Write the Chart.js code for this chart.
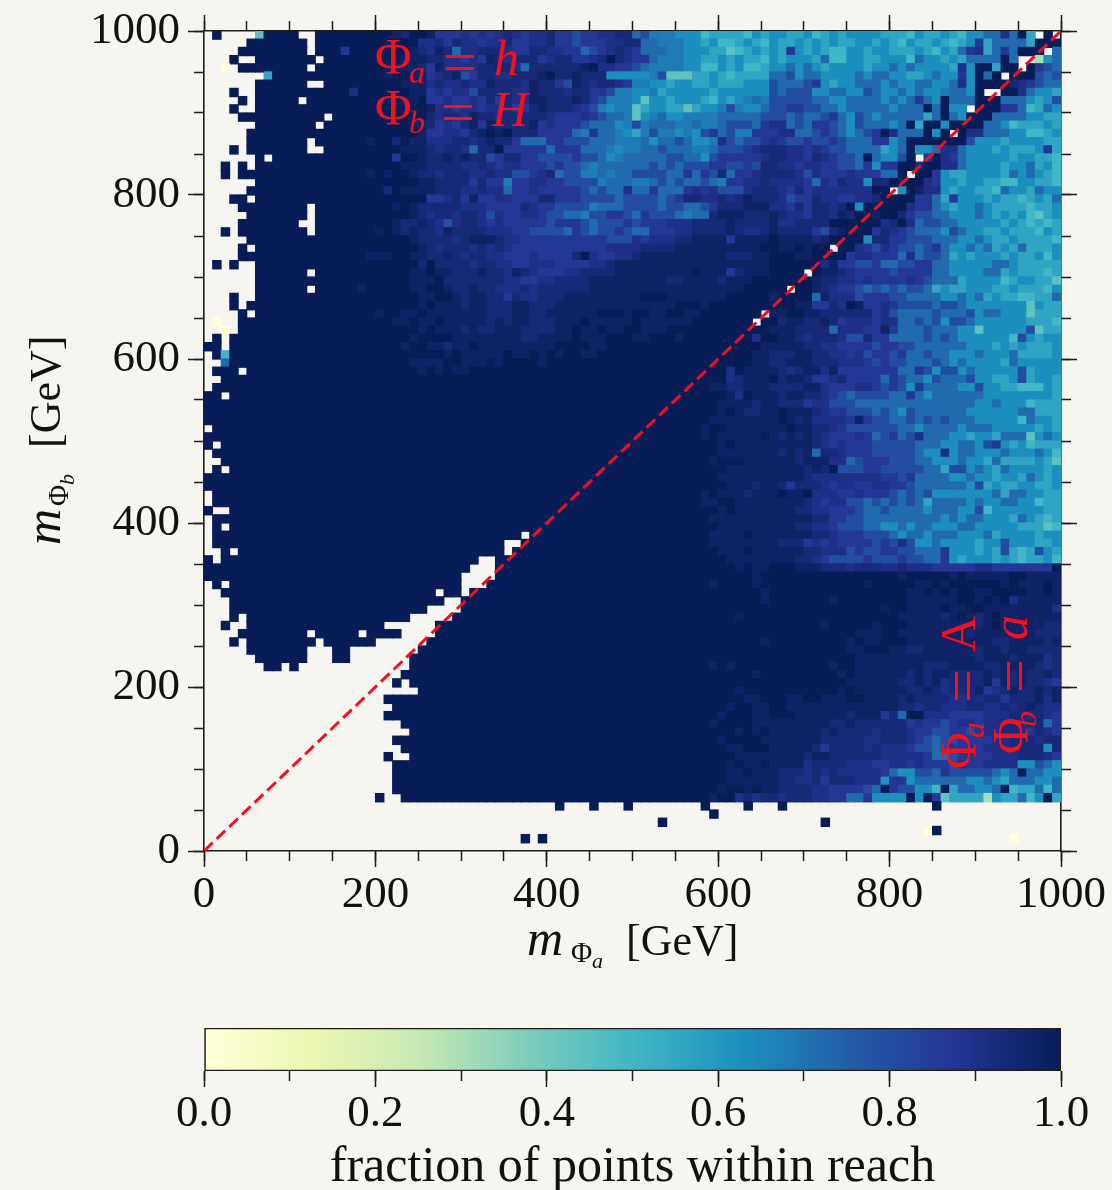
<!DOCTYPE html>
<html><head><meta charset="utf-8">
<style>html,body{margin:0;padding:0;background:#f6f5f0;width:1112px;height:1190px;overflow:hidden}
canvas{position:absolute;left:0;display:block}</style>
<script src="https://cdn.jsdelivr.net/npm/chart.js@4"></script>
</head><body>
<canvas id="map" width="1112" height="1010" style="top:0"></canvas>
<canvas id="bar" width="1112" height="180" style="top:1010px"></canvas>
<script>
// Each string is one row of cells, top row (m_b = 990-1000) first. '.' = empty cell.
const levelValues = {'9':1,'8':.97,'7':.935,'6':.9,'5':.865,'4':.8,'3':.72,'2':.68,'1':.63,'a':.56,'b':.5,'c':.44,'d':.3,'e':0};
const binWidth = 10;
const xTicks = [0,200,400,600,800,1000];
const barTicks = [0,0.2,0.4,0.6,0.8,1];
const barStops = ['#ffffd9','#edf8b1','#c7e9b4','#7fcdbb','#41b6c4','#1d91c0','#225ea8','#253494','#081d58'];
const diagonal = [{x:0,y:0},{x:1000,y:1000}];
// columns 0-32
const valuesLeft = [
".9....c9999..99999999987998555656",
".....9999999.99999999999966757665",
"....99999999.99959999999876873667",
"...9..9999999.9999999998887766565",
"..e.99999999.99999999888875866667",
".......a9999999999999899885678457",
"......999999..9999999998886766766",
"...9..999999999996999999885656647",
"....9.99999.999999999998895565565",
"...9..999999999999999999998665665",
"....9999999999.999999999997677687",
"......9999999.9999999999887565785",
".....9999999999999999999985566578",
".....9999999.99999989979886667767",
"...9.9999999..9999999998887677637",
"......9.9999999999999959987787877",
"..9.9.999999999999999998887777667",
"..9.99999999999999989899877677766",
"......999999999999999999988777757",
".....9999999999999999798888777667",
"...99.999999999999999999995567585",
"....99999999.99999999989877777666",
".....9999999.99999999999876776776",
"....9999999..99999999987787646776",
"..9.99999999.99999998987877687777",
".....9999999999999999999877776788",
"....9.999999999999999999987677767",
"....99999999999999988899887787677",
".9.9..999999999999999999979777767",
"......999999.99999999999889887778",
"......999999999999999999888977777",
"......999999.99999899999889987787",
"...9..999999999999999999988998788",
"...9.9999999999999999999989888788",
"....9.999999999999998998898888888",
".e..99999999999999999988988988888",
"..e.99999999999999999999989888787",
".9.999999999999999999999899998888",
"99.999999999999999999998998878898",
".9b999999999999999999999999989888",
"..3999999999999999999999888899888",
".999.9999999999999999999989898899",
"..9999999999999999999999999999999",
".99999999999999999999999999999999",
"99.999999999999999999999999999999",
"999999999999999999999999999999999",
"999999999999999999999999999999999",
"999999999999999999999999999999999",
".99999999999999999999999999999999",
"999999999999999999999999999999999",
"9.9999999999999999999999999999999",
".99999999999999999999999999999999",
"..9999999999999999999999999999999",
".9.999999999999999999999999999999",
"999999999999999999999999999999999",
"999999999999999999999999999999999",
".99999999999999999999999999999999",
".99999999999999999999999999999999",
"9..999999999999999999999999999999",
".99999999999999999999999999999999",
".9.999999999999999999999999999999",
".99999999999999999999999999999999",
".99999999999999999999999999999999",
"..9.99999999999999999999999999999",
"9.999999999999999999999999999999.",
"9999999999999999999999999999999..",
"999999999999999999999999999999...",
".9.999999999999999999999999999...",
"..9999999999999999999999999.99.99",
"...9999999999999999999999999..999",
"...99999999999999999999999....999",
"...9.9999999999999999999.....9999",
"..9..9999999999999999......999999",
"....99999999.99999.9999....999999",
"...9.99999999.999999......9999999",
".....9999999...99........99999999",
"......999999...99.......999999999",
".......99.9.............999999999",
".......................9999999999",
"......................9.999999999",
".........................99999999",
".....................999999999999",
"......................99999999999",
".....................999999999999",
".......................9999999999",
"........................999999999",
"......................99999999999",
".......................9999999999",
".....................9..999999999",
"......................99999999999",
"......................99999999999",
"......................99999999999",
"......................99999999999",
"....................9..9999999999",
"","","","","",""
];
// columns 33-65
const valuesMid = [
"56765 66755 45566 77342 22111 baaaa b1a",
"66755 66755 45556 67733 22211 a1bba 1ab",
"77655 77665 53456 76533 32211 1aacb a1a",
"87677 75677 55679 76553 22211 aa1a1 aab",
"78763 77777 78966 55432 22211 bb1a1 bba",
"76677 78977 87771 11112 4ccca a1aba aaa",
"87776 87754 87677 65221 1a11a a1aaa 111",
"77766 87776 77554 22112 a1111 1a111 111",
"75766 88777 87542 221c1 1a111 ab1a1 232",
"66755 78777 65421 22ca1 1aaca 11242 113",
"76777 77655 56543 32c12 31122 22333 334",
"87777 85655 54333 12423 33223 22344 435",
"98977 75555 32533 21a24 22121 45342 255",
"87753 33554 44333 22231 33431 12643 445",
"79555 55355 53332 12233 43332 23444 567",
"45775 54444 54431 23333 34433 14555 556",
"65665 55454 43233 33334 34344 45544 547",
"76644 56734 42232 33444 43353 54735 567",
"55255 66554 44423 33223 43433 43255 667",
"66355 65555 54343 36335 33356 56444 677",
"56655 57755 54444 34444 34577 66767 877",
"55557 65544 44233 34444 34433 45777 888",
"46556 65443 32445 54354 44323 37888 777",
"56555 55455 54344 45455 56667 77787 777",
"66655 44443 54344 54335 55667 77787 667",
"87665 55555 55554 44656 66778 88858 888",
"67655 55555 55556 66677 77888 88888 889",
"66555 65555 79655 66788 88888 88877 788",
"76655 66655 55667 88888 88888 88888 888",
"77687 65556 67777 88888 88889 88857 888",
"77665 56677 77888 88888 87788 88788 899",
"76667 67777 77888 88888 88888 88888 999",
"77576 67778 88888 88899 98888 88899 999",
"77788 77788 88888 88888 88999 89999 999",
"77788 77888 88899 98998 89988 99999 99.",
"78788 77788 89888 88988 88889 99999 9.9",
"78887 77788 98898 89988 89999 99999 999",
"88887 78888 98889 99889 99899 99999 969",
"88888 88899 99889 99999 99999 99999 998",
"88988 98989 98899 99999 99999 99999 988",
"98999 98999 99999 99999 99999 99999 988",
"99999 99999 99999 99999 99999 99969 888",
"99999 99999 99999 99999 99999 99967 888",
"99999 99999 99999 99999 99999 98877 888",
"99999 99999 99999 99999 99999 99986 988",
"99999 99999 99999 99999 99999 99888 878",
"99999 99999 99999 99999 99999 99898 778",
"99999 99999 99999 99999 99999 98888 888",
"99999 99999 99999 99999 99999 89988 888",
"99999 99999 99999 99999 99999 89888 889",
"99999 99999 99999 99999 99999 99898 888",
"99999 99999 99999 99999 99999 99888 888",
"99999 99999 99999 99999 99999 98999 888",
"99999 99999 99999 99999 99999 99988 888",
"99999 99999 99999 99999 99999 99888 888",
"99999 99999 99999 99999 99999 99988 878",
"99999 99999 99999 99999 99999 89888 788",
"99999 99999 99999 99999 99999 88998 888",
"99999 99999 99999 99999 99999 99898 888",
"99999 99999 99999 99999 99999 98888 888",
"99999 99999 99999 99999 99999 99888 888",
"9999. 99999 99999 99999 99999 98888 988",
"99..9 99999 99999 99999 99999 98888 888",
"99.99 99999 99999 99999 99999 99888 988",
".9999 99999 99999 99999 99999 99988 888",
".9999 99999 99999 99999 99999 99998 988",
".9999 99999 99999 99999 99999 99999 989",
"99999 99999 99999 99999 99999 98999 989",
"99999 99999 99999 99999 99999 99999 998",
"99999 99999 99999 99999 99999 99999 998",
"99999 99999 99999 99999 99999 99999 999",
"99999 99999 99999 99999 99999 99998 999",
"99999 99999 99999 99999 99999 99999 999",
"99999 99999 99999 99999 99999 99999 999",
"99999 99999 99999 99999 99999 99999 998",
"99999 99999 99999 99999 99999 99999 999",
"99999 99999 99999 99999 99999 99999 999",
"99999 99999 99999 99999 99999 98989 999",
"99999 99999 99999 99999 99999 99999 989",
"99999 99999 99999 99999 99999 99999 999",
"99999 99999 99999 99999 99999 99998 999",
"99999 99999 99999 99999 99999 99999 889",
"99999 99999 99999 99999 99999 99989 988",
"99999 99999 99999 99999 99999 99899 988",
"99999 99999 99999 99999 99999 98999 988",
"99999 99999 99999 99999 99999 99998 989",
"99999 99999 99999 99999 99999 99899 998",
"99999 99999 99999 99999 99999 99988 999",
"99999 99999 99999 99999 99999 99998 888",
"99999 99999 99999 99999 99999 99989 889",
"99999 99999 99999 99999 99999 99988 988",
"99999 99999 99999 99999 99999 99988 888",
"99999 99999 99999 99999 99999 99899 898",
"99999 99999 99999 99999 99999 98996 767",
"........9...9...9........9....9..",
"..........................9",
"....................9",
"",
"....9.9",
""
];
// columns 66-99
const valuesRight = [
"11aa1 ba1a1 111aa ab1aa 1ab11 33639 a.9.",
"1aa1a 1a1aa 11a1a b1aa1 aba15 a3333 a999",
"1a51a 1abb1 1a11a aa1ab 1a356 a3539 99.3",
"1a111 a3bb1 1aa11 1b311 a1a33 3393. .d13",
"11313 1a111 1a113 13111 1a619 9a99. 9543",
"33413 31111 31331 1aa13 11519 39.99 9434",
"43334 51a11 33313 11331 13619 99976 5433",
"43444 11331 14311 31311 23319 ..996 311a",
"44444 33113 33313 13531 93339 99333 1a14",
"44554 43313 33331 33393 911.9 99553 ba31",
"44343 34531 43133 333a3 93199 93333 11aa",
"66343 55431 43331 39a99 19999 331ba aa1a",
"56633 45431 34596 33391 9.966 33311 bba1",
"65445 44543 33551 39999 99941 11a11 11aa",
"77665 65443 333a1 39113 66311 1a1aa a15a",
"77665 76544 39311 49.59 65311 111a1 1aab",
"76656 65544 35155 99799 66311 11a11 3a1b",
"77764 65556 55533 9.995 1aa11 11a31 31ab",
"66665 36576 61779 99965 11a11 aabb1 1aab",
"76575 66666 6699. 19866 1a11a ab311 a311",
"76455 76655 66799 99553 a5111 a1aab a1a3",
"66575 77679 19999 96553 1a113 1aaaa baa1",
"87665 77687 99899 75443 31113 1a1a1 bca1",
"86677 77999 99967 96344 33111 11a1a baba",
"87777 54789 99576 54333 14311 aa1aa ab1a",
"98888 78999 91775 54443 33113 1aa1a aaab",
"98898 99.99 65465 44345 31131 3a1a3 aaa1",
"99988 99995 66555 36344 3a1a1 11a1a a1b1",
"99999 96855 44533 44553 31111 1331a aaaa",
"9999. 98876 55554 55553 31111 33a1a aaba",
"99999 87766 56555 56543 33a11 11ba1 1aac",
"99.99 87655 43434 3443a 1aa11 1aa1a aab1",
"89999 38666 45554 43333 11313 a1aab baa3",
"99988 55769 85565 44443 44311 11111 c1aa",
"88998 87777 77564 33334 33341 33111 caaa",
"97887 78756 66566 33434 14431 11111 aaab",
"88877 77366 65585 33343 3311c 11111 4caa",
"98876 77764 47553 33343 43111 111b4 1a11",
"88887 76655 55455 44333 33311 1a1a1 aaa1",
"77788 77665 64554 53343 31113 1113a aaa1",
"77888 77766 65454 43334 31311 11a31 1111",
"87678 86855 55555 33541 44131 11114 a111",
"97887 55675 55535 43314 33341 1aa14 a11a",
"77778 86555 66545 41533 33114 11aab bb1a",
"87887 76543 44443 35313 33333 11111 111a",
"87775 66444 33333 33333 33331 13111 baaa",
"89888 76554 44343 14333 33311 11113 3aaa",
"89878 66665 85443 34343 43331 1111b 311a",
"88988 77654 44444 33133 33133 31111 1a1a",
"87878 76555 65345 34633 311a1 1a333 c131",
"88888 76565 55444 44333 11331 451a1 baaa",
"87878 37765 55444 44311 61331 11311 131b",
"88878 88663 45554 44331 11311 a3aaa a1ac",
"88887 87944 45544 44433 a4413 1a311 11a1",
"88887 66666 66655 45333 31131 1a11a 31a1",
"87577 76566 55665 54333 33314 a1aa1 1aa1",
"89889 66655 65554 34341 11111 13a33 11aa",
"88887 65664 43434 343a3 33313 11331 1baa",
"88877 66555 43343 33313 33114 b1111 11aa",
"88888 77554 43333 33333 13133 111a3 1aba",
"88877 66544 43311 31331 11331 1111a aacb",
"88888 77655 54443 13313 33111 3a111 1a11",
"87775 65655 55454 64113 1111a 11411 1aa1",
"88887 76664 54455 44333 5111a 1a4ab a41a",
"88877 65444 45444 54433 51a11 1a1ab aa1b",
"99988 87776 77766 76665 55556 65555 5559",
"99999 99999 99999 89999 98988 88899 8888",
"99999 99999 98999 99889 89999 99898 8898",
"99999 99999 99999 98898 98998 89999 8898",
"99999 99899 99999 98888 88998 98968 8888",
"99999 99999 99989 98888 98899 88888 8886",
"99999 99999 99999 88888 78987 89888 8888",
"99999 98999 99899 98888 88887 89888 8877",
"99999 99999 88899 88888 88878 88888 8777",
"99999 99998 98899 98888 88888 87788 8878",
"99999 99998 89998 87788 88887 88788 7777",
"99999 99999 88888 88888 88887 88878 8867",
"99999 99899 88888 88877 78888 77888 8767",
"99999 99989 88888 87878 87777 87878 7787",
"99999 99998 88888 77878 67777 85878 7765",
"99999 99989 88888 87787 67778 56787 7878",
"99889 98889 98888 78777 76676 77577 7868",
"99888 88888 88888 77677 66677 66767 8766",
"99988 88887 88857 39966 65555 66677 6765",
"88888 88778 77777 75655 45665 66776 7735",
"88888 87877 77677 76554 45545 66776 5765",
"88888 87777 76677 76543 44555 56677 7677",
"88888 75777 76766 65443 45555 66677 7717",
"88887 88777 77766 66653 34555 56667 7765",
"88886 77776 66556 65655 54655 66661 1431",
"87776 76766 66653 11443 54444 43139 3311",
"87766 75777 66615 51333 33311 31a33 3113",
"87777 66555 54395 4411b 9a331 139ba a3b3",
"76777 66553 35111 19195 caaaa d1aa3 b19a",
".9.................9",
"",
"......9",
"..................e9",
"............................e",
""
];

const toColor = v => {
  const p = v * (barStops.length - 1), i = Math.min(Math.floor(p), barStops.length - 2), t = p - i;
  const a = barStops[i], b = barStops[i + 1];
  const c = k => Math.round(parseInt(a.substr(k, 2), 16) * (1 - t) + parseInt(b.substr(k, 2), 16) * t);
  return `rgb(${c(1)},${c(3)},${c(5)})`;
};
const cells = [], cellColors = [];
[[valuesLeft, 0], [valuesMid, 33], [valuesRight, 66]].forEach(([rows, offset]) => {
  rows.forEach((row, r) => {
    [...row.replace(/ /g, '')].forEach((ch, i) => {
      if (ch === '.' || !(ch in levelValues) || offset + i > 99) return;
      cells.push({x: (offset + i + .5) * binWidth, y: 1000 - (r + .5) * binWidth});
      cellColors.push(toColor(levelValues[ch]));
    });
  });
});

const INK = '#1c1c1c', SERIF = '"Liberation Serif"';
const fixed = (prop, size) => s => { s[prop] = size; s.paddingTop = s.paddingBottom = s.paddingLeft = s.paddingRight = 0; };
const axis = (o) => ({
  type: 'linear', min: o.min, max: o.max, position: o.pos, axis: o.axis, weight: o.weight,
  afterFit: fixed(o.axis === 'x' ? 'height' : 'width', o.size),
  border: {display: o.border !== false, color: INK, width: 1.6},
  grid: {drawOnChartArea: false, drawTicks: true, tickLength: o.len, tickColor: INK, tickWidth: o.tw || 1.5},
  ticks: {display: !!o.labels, stepSize: o.step, autoSkip: false, maxRotation: 0, padding: o.pad || 0, color: '#111',
    font: {family: SERIF, size: 45}, maxTicksLimit: 50, callback: o.fmt || (v => v)}
});
const text = (ctx, str, x, y, font, rot) => {
  ctx.save(); ctx.translate(x, y); if (rot) ctx.rotate(-Math.PI / 2);
  ctx.font = font; ctx.textAlign = 'left'; ctx.textBaseline = 'alphabetic'; ctx.fillText(str, 0, 0); ctx.restore();
};
const R = s => `${s}px ${SERIF}`, I = s => `italic ${s}px ${SERIF}`;
const labels = {
  id: 'labels',
  afterDraw(chart) {
    const c = chart.ctx;
    c.fillStyle = '#111';
    text(c, 'm', 527, 955, I(50)); text(c, 'Φ', 571, 962, R(29)); text(c, 'a', 592, 968, I(22)); text(c, '[GeV]', 626, 955, R(44));
    text(c, 'm', 60, 545, I(50), 1); text(c, 'Φ', 68, 506, R(29), 1); text(c, 'b', 74, 485, I(22), 1); text(c, '[GeV]', 60, 448, R(44), 1);
    c.fillStyle = '#f5101c';
    text(c, 'Φ', 375, 73, R(50)); text(c, 'a', 409, 83, I(32)); text(c, '=', 443, 82, R(60)); text(c, 'h', 494, 75, I(50));
    text(c, 'Φ', 375, 124, R(50)); text(c, 'b', 409, 133, I(32)); text(c, '=', 441, 132, R(60)); text(c, 'H', 492, 126, I(50));
    text(c, 'Φ', 975, 769, R(50), 1); text(c, 'a', 984, 738, I(32), 1); text(c, '=', 982, 703, R(60), 1); text(c, 'A', 975, 652, R(50), 1);
    text(c, 'Φ', 1027, 754, R(50), 1); text(c, 'b', 1036, 727, I(32), 1); text(c, '=', 1034, 693, R(60), 1); text(c, 'a', 1027, 640, I(50), 1);
  }
};

new Chart(document.getElementById('map'), {
  type: 'scatter',
  data: {datasets: [
    {label: 'reference line', data: diagonal, showLine: true, pointRadius: 0, borderColor: '#f01020', borderWidth: 3, borderDash: [12, 5.5], order: 1},
    {label: 'fraction of points within reach', data: cells, backgroundColor: cellColors, pointStyle: 'rect', pointRadius: 6.7, pointBorderWidth: 0, borderWidth: 0, order: 2}
  ]},
  options: {
    responsive: false, animation: false, events: [],
    layout: {autoPadding: false, padding: 0},
    plugins: {legend: {display: false}, tooltip: {enabled: false}},
    scales: {
      x: axis({axis: 'x', min: 0, max: 1000, pos: 'bottom', weight: 2, size: 159, len: 16, step: 200, labels: true, pad: 1}),
      xMinor: axis({axis: 'x', min: 0, max: 1000, pos: 'bottom', weight: 0, size: 0, len: 10, step: 50, border: false}),
      xTop: axis({axis: 'x', min: 0, max: 1000, pos: 'top', weight: 2, size: 31, len: 16, step: 200}),
      xTopMinor: axis({axis: 'x', min: 0, max: 1000, pos: 'top', weight: 0, size: 0, len: 10, step: 50, border: false}),
      y: axis({axis: 'y', min: 0, max: 1000, pos: 'left', weight: 2, size: 204, len: 16, step: 200, labels: true, pad: 8}),
      yMinor: axis({axis: 'y', min: 0, max: 1000, pos: 'left', weight: 0, size: 0, len: 10, step: 50, border: false}),
      yRight: axis({axis: 'y', min: 0, max: 1000, pos: 'right', weight: 2, size: 51, len: 16, step: 200}),
      yRightMinor: axis({axis: 'y', min: 0, max: 1000, pos: 'right', weight: 0, size: 0, len: 10, step: 50, border: false})
    }
  },
  plugins: [labels]
});

new Chart(document.getElementById('bar'), {
  type: 'bar',
  data: {labels: ['fraction'], datasets: [{
    data: [[0, 1]], categoryPercentage: 1, barPercentage: 1, borderWidth: 1.6, borderColor: INK, borderSkipped: false,
    backgroundColor(ctx) {
      const a = ctx.chart.chartArea; if (!a) return barStops[0];
      const g = ctx.chart.ctx.createLinearGradient(a.left, 0, a.right, 0);
      barStops.forEach((col, i) => g.addColorStop(i / (barStops.length - 1), col));
      return g;
    }
  }]},
  options: {
    indexAxis: 'y', responsive: false, animation: false, events: [],
    layout: {autoPadding: false, padding: {left: 204, right: 51, top: 18, bottom: 0}},
    plugins: {legend: {display: false}, tooltip: {enabled: false}},
    scales: {
      x: Object.assign(axis({axis: 'x', min: 0, max: 1, pos: 'bottom', weight: 2, size: 119, len: 16, step: 0.2, labels: true, pad: 0, border: false, fmt: v => v.toFixed(1)}),
        {title: {display: true, text: 'fraction of points within reach', color: '#111', font: {family: SERIF, size: 50, lineHeight: 1}, padding: {top: 0, bottom: -3}}}),
      xMinor: axis({axis: 'x', min: 0, max: 1, pos: 'bottom', weight: 0, size: 0, len: 10, step: 0.1, border: false}),
      y: {type: 'category', display: false}
    }
  }
});
</script>
</body></html>
